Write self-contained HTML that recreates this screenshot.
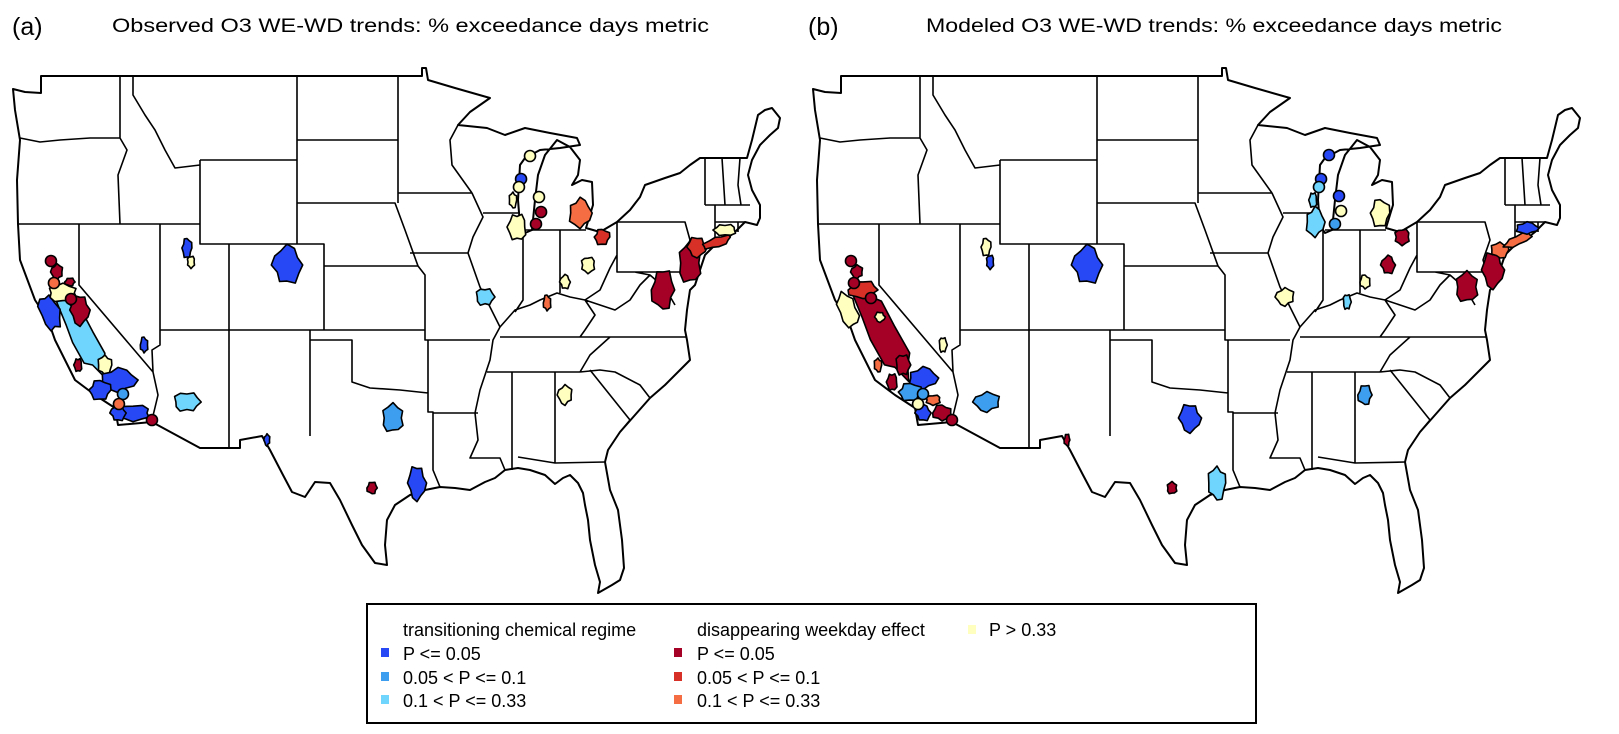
<!DOCTYPE html>
<html><head><meta charset="utf-8">
<style>
html,body{margin:0;padding:0;background:#fff;}
svg{display:block;font-family:"Liberation Sans",sans-serif;}
</style></head>
<body>
<svg id="fig" width="1619" height="734" viewBox="0 0 1619 734" xmlns="http://www.w3.org/2000/svg">
<rect width="1619" height="734" fill="#fff"/>
<text x="12" y="35" font-size="25">(a)</text>
<text x="112" y="32" font-size="19" textLength="597" lengthAdjust="spacingAndGlyphs">Observed O3 WE-WD trends: % exceedance days metric</text>
<text x="808" y="35" font-size="25">(b)</text>
<text x="926" y="32" font-size="19" textLength="576" lengthAdjust="spacingAndGlyphs">Modeled O3 WE-WD trends: % exceedance days metric</text>
<defs>
<g id="basemap" fill="none" stroke="#000" stroke-linejoin="round">
<path stroke-width="2" d="M41,76 L422,76 L422,68 L426,68 L428,80 L455,88 L490,98 L470,112 L458,125 L487,128 L505,135 L525,128 L550,133 L577,138 L580,145 L560,148 L540,150 L525,158 L520,165 L518,200 L520,225 L525,233 L532,230 L535,200 L538,175 L545,155 L557,140 L570,147 L580,160 L578,175 L572,185 L582,180 L592,182 L593,205 L586,228 L600,232 L617,222 L630,210 L640,197 L645,185 L665,178 L680,173 L690,165 L700,158 L747,158 L752,140 L758,115 L765,110 L772,108 L780,118 L778,128 L770,135 L760,145 L752,160 L748,175 L752,190 L760,205 L760,218 L757,225 L745,222 L735,232 L725,240 L715,245 L705,255 L700,270 L695,285 L690,290 L687,310 L685,330 L687,340 L690,360 L680,370 L665,385 L650,398 L635,415 L620,432 L608,450 L605,462 L610,490 L618,510 L622,540 L624,568 L620,580 L612,585 L598,593 L600,582 L595,565 L590,540 L588,520 L585,505 L583,493 L578,483 L570,475 L563,478 L555,484 L545,475 L530,470 L518,468 L505,470 L495,478 L485,482 L470,490 L455,488 L440,487 L425,490 L410,495 L395,505 L387,520 L385,545 L387,565 L375,563 L362,545 L352,525 L340,500 L330,483 L315,482 L305,497 L292,492 L283,475 L270,450 L262,436 L240,440 L240,448 L200,448 L152,422 L118,425 L115,408 L95,395 L75,380 L65,360 L55,340 L48,320 L35,300 L20,260 L18,224 L17,180 L20,140 L15,110 L13,89 L25,92 L41,93 Z"/>
<path stroke-width="1.6" d="
M20,138 L40,142 L60,140 L90,138 L120,138
M120,76 L120,138 L127,150 L118,175 L120,224
M133,76 L133,95 L145,115 L155,130 L165,150 L175,168 L200,165
M200,160 L297,160 M200,160 L200,244 L297,244
M18,224 L200,224 L200,244 L229,244
M79,224 L79,285 L153,372 L158,395 L152,420
M160,224 L160,345 L152,350 L153,372
M229,244 L229,448 M160,330 L324,330
M297,76 L297,244 L324,244 L324,330
M310,330 L310,436 M324,330 L425,330
M310,340 L352,340 L352,382 L370,388 L400,390 L428,393
M428,340 L428,412 L433,412 L433,470 L440,487
M297,140 L398,140 M398,76 L398,203 M297,203 L395,203 L405,230 L418,266 L324,266
M418,266 L425,275 L425,340 L490,340
M398,193 L472,193 M410,253 L468,253 M458,125 L450,140 L452,165 L472,193
M472,193 L483,217 L473,237 L468,253 L480,287 L490,307 L500,327 L493,340 L490,360 L480,390 L475,413 L478,440 L470,458 L500,458 L505,470
M433,413 L478,413
M483,213 L518,213 M523,230 L523,300 L515,312 M525,230 L586,230 M560,230 L560,293
M500,327 L515,310 L530,305 L540,300 L557,293 L570,297 L585,300 L600,290 L610,268 L617,255
M617,222 L617,272 L685,272 M617,222 L685,222 L690,240 L683,260 L687,272
M617,272 L635,272 L650,275 L640,285 L630,300 L615,310 L600,305 L585,300 L595,315 L585,330 L580,337
M650,275 L665,288 L675,305
M500,337 L687,337 M487,372 L580,372 M610,337 L590,355 L580,372
M580,372 L600,370 L615,372 L640,385 L650,398 M590,370 L610,395 L630,420 L620,432
M512,372 L512,470 M555,372 L555,463 M518,457 L555,463 L605,462
M705,158 L705,205 M722,158 L725,205 M740,158 L738,185 L741,205 M705,205 L750,205
M715,205 L715,240 M715,222 L745,222 M738,222 L738,232"/>
</g>
</defs>
<use href="#basemap" x="0" y="0"/>
<use href="#basemap" x="800" y="0"/>
<g id="sites-a"></g>
<g id="sites-b" transform="translate(800,0)"></g>

<g font-size="18">
<rect x="367" y="604" width="889" height="119" fill="#fff" stroke="#000" stroke-width="2"/>
<text x="403" y="636">transitioning chemical regime</text>
<text x="697" y="636">disappearing weekday effect</text>
<rect x="968" y="625" width="8" height="9" fill="#ffffbf"/>
<text x="989" y="636">P &gt; 0.33</text>
<rect x="381" y="648" width="8" height="9" fill="#2649f5"/>
<text x="403" y="660">P &lt;= 0.05</text>
<rect x="381" y="672" width="8" height="9" fill="#3d9ef0"/>
<text x="403" y="684">0.05 &lt; P &lt;= 0.1</text>
<rect x="381" y="695" width="8" height="9" fill="#70d5fc"/>
<text x="403" y="707">0.1 &lt; P &lt;= 0.33</text>
<rect x="674" y="648" width="8" height="9" fill="#a50026"/>
<text x="697" y="660">P &lt;= 0.05</text>
<rect x="674" y="672" width="8" height="9" fill="#d73027"/>
<text x="697" y="684">0.05 &lt; P &lt;= 0.1</text>
<rect x="674" y="695" width="8" height="9" fill="#f46d43"/>
<text x="697" y="707">0.1 &lt; P &lt;= 0.33</text>
</g>
</svg>
<script>
// Observed sites: lon, lat, extent (deg), rotation, class, kind (p=area, c=monitor)
const obsLon = [-111.62,-111.31,-103.92,-119.62,-122.15,-121.62,-120.62,-121.15,-119.85,-117.92,-120.0,-116.92,-118.31,-115.77,-116.92,-114.92,-111.62,-105.46,-97.38,-95.77,-93.92,-86.54,-86.23,-81.38,-79.69,-80.77,-82.54,-83.92,-88.69,-82.54,-75.0,-72.92,-72.38,-70.85,-70.23,-122.08,-121.85,-120.54,-116.54,-116.85,-114.31,-85.23,-85.92,-86.08,-84.54,-84.38,-84.77];
const obsLat = [40.4,39.7,39.55,35.95,37.15,39.2,38.7,38.15,37.3,34.55,34.55,33.8,33.3,32.15,32.15,35.55,32.7,30.8,28.4,31.9,28.65,42.8,41.45,42.15,40.95,39.55,38.7,37.65,37.95,33.05,38.3,39.65,40.45,40.7,41.3,39.75,38.65,37.85,33.1,32.6,31.8,45.0,43.85,43.45,42.95,42.2,41.6];
const obsW = [0.77,0.6,2.3,1.9,1.5,0.9,0.8,2.3,1.5,1.1,0.6,2.8,1.7,2.7,1.2,0.6,2.0,0.45,0.8,1.7,1.4,0.6,1.4,1.7,1.2,1.1,0.8,0.6,1.4,1.1,1.8,1.8,1.5,2.3,1.7,0,0,0,0,0,0,0,0,0,0,0,0];
const obsH = [1.0,0.6,1.9,4.5,1.9,0.8,0.4,0.9,1.5,1.0,0.7,1.2,1.0,0.8,0.8,0.8,1.0,0.6,0.6,1.4,1.7,0.8,1.4,1.5,0.8,0.8,0.7,0.8,0.9,1.0,2.0,2.0,1.0,0.5,0.6,0,0,0,0,0,0,0,0,0,0,0,0];
const obsRot = [0,0,0,-28,-20,0,0,0,0,0,0,0,0,0,0,0,0,0,0,0,0,0,0,0,0,0,0,0,0,0,0,0,0,-20,0,0,0,0,0,0,0,0,0,0,0,0,0];
const obsCls = ['B1','Y','B1','B3','B1','R1','R1','Y','R1','Y','R1','B1','B1','B1','B1','B1','B3','B1','R1','B2','B1','Y','Y','R3','R2','Y','Y','R3','B3','Y','R1','R1','R2','R2','Y','R1','R3','R1','B2','R3','R1','Y','B1','Y','Y','R1','R1'];
const obsKind = ['p','p','p','p','p','p','p','p','p','p','p','p','p','p','p','p','p','p','p','p','p','p','p','p','p','p','p','p','p','p','p','p','p','p','p','c','c','c','c','c','c','c','c','c','c','c','c'];

// Modeled sites
const modLon = [-111.69,-111.38,-103.92,-119.62,-118.08,-121.62,-121.15,-122.31,-119.85,-120.0,-118.92,-116.54,-117.54,-115.77,-116.54,-115.08,-115.0,-111.62,-105.46,-97.38,-96.0,-93.92,-86.54,-86.38,-81.38,-79.69,-80.77,-82.54,-83.92,-88.69,-82.54,-74.69,-72.69,-72.15,-70.77,-70.08,-122.08,-121.85,-120.54,-116.54,-116.92,-114.31,-85.31,-85.92,-86.08,-84.54,-84.38,-84.85];
const modLat = [40.45,39.7,39.55,36.15,34.55,39.2,38.3,37.3,36.95,34.55,33.7,33.9,33.2,32.8,32.15,32.15,35.55,32.7,30.8,28.4,31.9,28.65,42.8,41.7,42.15,40.95,39.55,38.7,37.7,37.95,33.05,38.45,39.3,40.3,40.8,41.4,39.75,38.65,37.9,33.1,32.6,31.8,45.05,43.85,43.45,43.0,42.25,41.6];
const modW = [0.77,0.6,2.3,2.3,1.1,0.9,2.3,1.5,0.8,0.6,0.8,2.2,1.8,1.2,1.2,1.5,0.6,2.0,0.45,0.8,1.7,1.4,0.6,1.4,1.5,1.2,1.1,0.8,0.6,1.4,1.1,1.8,1.7,1.4,2.3,1.7,0,0,0,0,0,0,0,0,0,0,0,0];
const modH = [0.9,0.7,1.9,5.5,1.1,0.7,0.9,1.8,0.5,0.7,0.9,1.1,0.9,0.5,0.8,0.8,0.8,1.0,0.6,0.6,1.4,1.7,0.8,1.5,1.4,0.8,0.9,0.7,0.8,0.9,1.0,1.5,1.8,0.8,0.5,0.6,0,0,0,0,0,0,0,0,0,0,0,0];
const modRot = [0,0,0,-28,0,0,0,-20,0,0,0,0,0,0,0,0,0,0,0,0,0,0,0,0,0,0,0,0,0,0,0,0,0,0,-25,0,0,0,0,0,0,0,0,0,0,0,0,0];
const modCls = ['Y','B1','B1','R1','R1','R1','R2','Y','Y','R3','R1','B1','B2','R3','B1','R1','Y','B2','R1','R1','B1','B3','B3','B3','Y','R1','R1','Y','B3','Y','B2','R1','R1','R3','R3','B1','R1','R1','R1','B2','Y','R1','B1','B1','B3','B1','Y','B2'];
const modKind = ['p','p','p','p','p','p','p','p','p','p','p','p','p','p','p','p','p','p','p','p','p','p','p','p','p','p','p','p','p','p','p','p','p','p','p','p','c','c','c','c','c','c','c','c','c','c','c','c'];

const palette = {B1:'#2649f5',B2:'#3d9ef0',B3:'#70d5fc',R1:'#a50026',R2:'#d73027',R3:'#f46d43',Y:'#ffffbf'};
function projX(lon){return 13*(lon+126);}
function projY(lat){return 20*(52.8-lat);}
const jag=[1,0.8,1.05,0.9,1.1,0.85,1,0.75,1.05,0.95,0.85,1.1];
const NS='http://www.w3.org/2000/svg';
function drawSites(gid,lon,lat,w,h,rot,cls,kind){
  const g=document.getElementById(gid);
  for(let i=0;i<lon.length;i++){
    const cx=projX(lon[i]), cy=projY(lat[i]);
    let el;
    if(kind[i]==='c'){
      el=document.createElementNS(NS,'circle');
      el.setAttribute('cx',cx);el.setAttribute('cy',cy);el.setAttribute('r',5.5);
      
      
    } else {
      const a=w[i]*13/2, b=h[i]*20/2, t=rot[i]*Math.PI/180;
      const pts=[];
      for(let k=0;k<12;k++){
        const ang=k/12*2*Math.PI, r=jag[(k+i)%12];
        const px=Math.cos(ang)*a*r, py=Math.sin(ang)*b*r;
        pts.push((cx+px*Math.cos(t)-py*Math.sin(t)).toFixed(1)+','+(cy+px*Math.sin(t)+py*Math.cos(t)).toFixed(1));
      }
      el=document.createElementNS(NS,'polygon');
      el.setAttribute('points',pts.join(' '));
      
      
    }
    el.setAttribute('fill',palette[cls[i]]);
    el.setAttribute('stroke','#000');
    el.setAttribute('stroke-width','1.6');
    el.setAttribute('stroke-linejoin','round');
    g.appendChild(el);
  }
}
drawSites('sites-a',obsLon,obsLat,obsW,obsH,obsRot,obsCls,obsKind);
drawSites('sites-b',modLon,modLat,modW,modH,modRot,modCls,modKind);
</script>
</body></html>
